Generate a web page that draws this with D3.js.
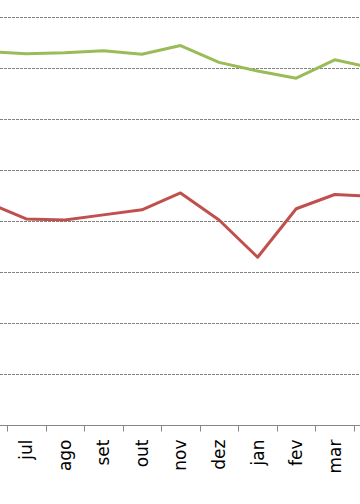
<!DOCTYPE html>
<html>
<head>
<meta charset="utf-8">
<script src="https://cdn.jsdelivr.net/npm/d3@7"></script>
<style>
  html, body { margin: 0; padding: 0; background: #fff; }
  svg { display: block; }
  .x-axis text { font-family: "DejaVu Sans", sans-serif; font-size: 17px; fill: #000; }
</style>
</head>
<body>
<svg id="chart" width="360" height="504"></svg>
<script>
// Data (chart is cropped: jun and abr lie just outside the visible frame)
const months = ["jun", "jul", "ago", "set", "out", "nov", "dez", "jan", "fev", "mar", "abr"];
const visibleLabels = ["jul", "ago", "set", "out", "nov", "dez", "jan", "fev", "mar"];
const greenSeries = [73.2, 72.8, 73.0, 73.4, 72.7, 74.4, 71.1, 69.4, 68.0, 71.6, 70.0];
const redSeries   = [43.6, 40.4, 40.2, 41.2, 42.2, 45.5, 40.2, 32.9, 42.4, 45.2, 44.8];
const gridValues  = [10, 20, 30, 40, 50, 60, 70, 80];

const svg = d3.select("#chart");
const W = 360;

const x = d3.scaleBand().domain(months).range([-31.6, 392.6]).paddingInner(0).paddingOuter(0);
const y = d3.scaleLinear().domain([0, 80]).range([425, 17]);
const cx = d => x(d) + x.bandwidth() / 2;

// Gridlines
svg.append("g").selectAll("line").data(gridValues).join("line")
  .attr("x1", 0).attr("x2", W)
  .attr("y1", d => Math.round(y(d)) + 0.5).attr("y2", d => Math.round(y(d)) + 0.5)
  .attr("stroke", "#808080").attr("stroke-width", 1)
  .attr("stroke-dasharray", "3,1");

// X axis with ticks at band boundaries
const xAxisG = svg.append("g").attr("class", "x-axis")
  .attr("transform", `translate(0,${Math.round(y(0)) + 0.5})`);
xAxisG.append("line").attr("x1", 0).attr("x2", W).attr("y1", 0).attr("y2", 0)
  .attr("stroke", "#868686").attr("stroke-width", 1);
const boundaries = months.slice(1).map(m => x(m));
xAxisG.selectAll("line.tick").data(boundaries).join("line").attr("class", "tick")
  .attr("x1", d => Math.round(d) + 0.5).attr("x2", d => Math.round(d) + 0.5)
  .attr("y1", 0).attr("y2", 6)
  .attr("stroke", "#868686").attr("stroke-width", 1);
xAxisG.selectAll("text").data(visibleLabels).join("text")
  .attr("transform", d => `translate(${cx(d)},14) rotate(-90)`)
  .attr("text-anchor", "end")
  .attr("dy", "0.35em")
  .text(d => d);

// Lines
const line = d3.line().x((d, i) => cx(months[i])).y(d => y(d));
svg.append("path").datum(greenSeries)
  .attr("fill", "none").attr("stroke", "#9BBB59").attr("stroke-width", 3)
  .attr("stroke-linejoin", "round").attr("d", line);
svg.append("path").datum(redSeries)
  .attr("fill", "none").attr("stroke", "#C0504D").attr("stroke-width", 3)
  .attr("stroke-linejoin", "round").attr("d", line);
</script>
</body>
</html>
